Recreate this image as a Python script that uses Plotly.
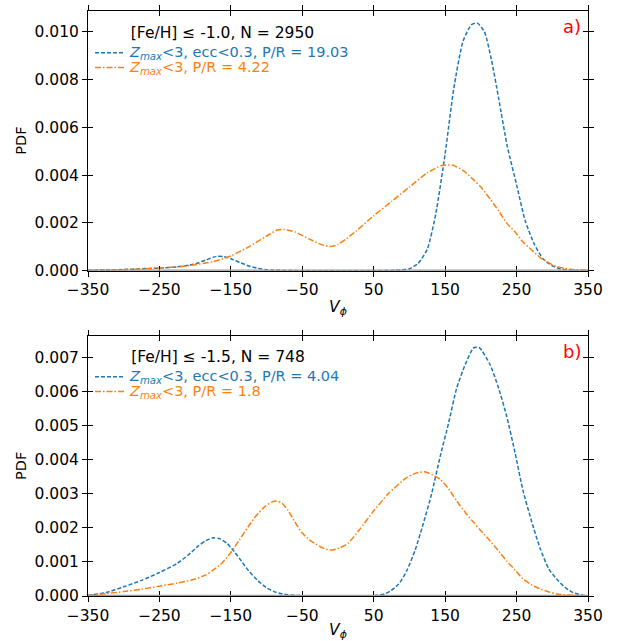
import plotly.graph_objects as go

# ---------------- data ----------------
# Panel a) [Fe/H] <= -1.0
a_blue_v = [-350, -325, -300, -275, -250, -225, -200, -185, -170, -160, -150, -137, -125, -112, -100, -75, -50, 0, 50, 75, 90, 100, 112, 125, 137, 150, 162, 175, 187, 195, 205, 215, 225, 237, 250, 262, 275, 287, 300, 312, 325, 350]
a_blue_p = [0.00002, 0.00003, 0.00005, 0.00008, 0.00011, 0.00016, 0.00028, 0.00045, 0.00060, 0.00059, 0.00050, 0.00034, 0.00020, 0.00010, 0.00004, 0.00001, 0.0, 0.0, 0.0, 0.00001, 0.00004, 0.00008, 0.0003, 0.0009, 0.0024, 0.0049, 0.0076, 0.0096, 0.0103, 0.01036, 0.0100, 0.0088, 0.0072, 0.0052, 0.0036, 0.0021, 0.0011, 0.0005, 0.0002, 0.00007, 0.00002, 0.0]

a_orange_v = [-350, -325, -300, -275, -250, -225, -200, -175, -150, -125, -100, -85, -75, -60, -40, -22, -10, 0, 10, 25, 50, 75, 100, 125, 145, 160, 175, 190, 200, 213, 225, 236, 250, 259, 270, 283, 300, 306, 325, 350]
a_orange_p = [0.00001, 0.00002, 0.00004, 0.00007, 0.00011, 0.00016, 0.00025, 0.00038, 0.00062, 0.0010, 0.00145, 0.00170, 0.00172, 0.00162, 0.00132, 0.00108, 0.00101, 0.00110, 0.00130, 0.00165, 0.0023, 0.0029, 0.0035, 0.0041, 0.0044, 0.00442, 0.0042, 0.0038, 0.0035, 0.0030, 0.0025, 0.0020, 0.00155, 0.0012, 0.0009, 0.00055, 0.00025, 0.00018, 0.00006, 0.00002]

# Panel b) [Fe/H] <= -1.5
b_blue_v = [-350, -325, -300, -275, -250, -225, -210, -195, -185, -175, -165, -155, -145, -135, -125, -112, -100, -87, -75, -60, -40, 0, 40, 55, 65, 73, 85, 96, 108, 119, 131, 143, 155, 166, 178, 190, 198, 213, 225, 236, 248, 259, 271, 283, 295, 306, 318, 329, 340, 350]
b_blue_p = [0.00002, 0.00010, 0.00027, 0.00046, 0.00069, 0.00096, 0.00120, 0.00148, 0.00163, 0.00171, 0.00168, 0.00154, 0.00130, 0.00102, 0.00074, 0.00045, 0.00024, 0.00011, 0.00005, 0.00002, 0.0, 0.0, 0.0, 0.00002, 0.00006, 0.00014, 0.00035, 0.00073, 0.00135, 0.0021, 0.0030, 0.0041, 0.0051, 0.0061, 0.0068, 0.0073, 0.0073, 0.0068, 0.0061, 0.0053, 0.0042, 0.0031, 0.0022, 0.0014, 0.0008, 0.0005, 0.00025, 0.0001, 0.00003, 0.0]

b_orange_v = [-350, -325, -300, -275, -250, -225, -200, -185, -175, -162, -150, -138, -126, -115, -103, -93, -86, -78, -70, -61, -50, -40, -33, -20, -9, 3, 14, 30, 50, 70, 96, 110, 121, 132, 143, 155, 166, 178, 190, 200, 213, 225, 236, 248, 259, 271, 283, 295, 306, 330, 350]
b_orange_p = [0.00002, 0.00007, 0.00013, 0.00020, 0.00029, 0.00038, 0.00050, 0.00062, 0.00076, 0.00098, 0.00128, 0.00165, 0.00203, 0.00235, 0.00262, 0.00276, 0.00279, 0.00272, 0.00252, 0.00220, 0.00185, 0.00165, 0.00155, 0.00140, 0.00135, 0.00142, 0.00155, 0.00195, 0.0025, 0.0030, 0.00348, 0.00362, 0.00365, 0.00357, 0.00343, 0.00315, 0.0028, 0.00246, 0.00216, 0.00192, 0.00162, 0.00132, 0.00103, 0.00076, 0.0005, 0.00033, 0.00021, 0.00012, 0.00006, 0.00002, 0.00001]

x_ticks = [-350, -250, -150, -50, 50, 150, 250, 350]
a_yticks = [0.000, 0.002, 0.004, 0.006, 0.008, 0.010]
b_yticks = [0.000, 0.001, 0.002, 0.003, 0.004, 0.005, 0.006, 0.007]

a_title = "[Fe/H] ≤ -1.0, N = 2950"
b_title = "[Fe/H] ≤ -1.5, N = 748"
a_names = ["<i>Z<sub>max</sub></i>&lt;3, ecc&lt;0.3, P/R = 19.03", "<i>Z<sub>max</sub></i>&lt;3, P/R = 4.22"]
b_names = ["<i>Z<sub>max</sub></i>&lt;3, ecc&lt;0.3, P/R = 4.04", "<i>Z<sub>max</sub></i>&lt;3, P/R = 1.8"]

BLUE = "#1f77b4"
ORANGE = "#ff7f0e"
FONT = "DejaVu Sans"

W, H = 627, 641
xdom = [88 / W, 588 / W]
a_dom = [1 - 270.7 / H, 1 - 10.5 / H]
b_dom = [1 - 596 / H, 1 - 335.5 / H]
a_range = [0, 0.01089]
b_range = [0, 0.00766]

fig = go.Figure()

def colored(name, c):
    return f'<span style="color:{c};font-size:14.5px">{name}</span>'

BLUE_LINE = dict(color=BLUE, width=1.5, dash="4px,2px", shape="spline", smoothing=0.6)
ORANGE_LINE = dict(color=ORANGE, width=1.5, dash="6px,2px,1.5px,2px", shape="spline", smoothing=0.6)

# panel a
fig.add_trace(go.Scatter(x=a_blue_v, y=a_blue_p, mode="lines", name=colored(a_names[0], BLUE),
                         line=BLUE_LINE, xaxis="x", yaxis="y", legend="legend"))
fig.add_trace(go.Scatter(x=a_orange_v, y=a_orange_p, mode="lines", name=colored(a_names[1], ORANGE),
                         line=ORANGE_LINE, xaxis="x", yaxis="y", legend="legend3"))
# panel b
fig.add_trace(go.Scatter(x=b_blue_v, y=b_blue_p, mode="lines", name=colored(b_names[0], BLUE),
                         line=BLUE_LINE, xaxis="x2", yaxis="y2", legend="legend2"))
fig.add_trace(go.Scatter(x=b_orange_v, y=b_orange_p, mode="lines", name=colored(b_names[1], ORANGE),
                         line=ORANGE_LINE, xaxis="x2", yaxis="y2", legend="legend4"))

# invisible traces to hold the inward-tick overlay axes
fig.add_trace(go.Scatter(x=[-350, 350], y=[0, 0], mode="lines", opacity=0, showlegend=False,
                         hoverinfo="skip", xaxis="x3", yaxis="y3"))
fig.add_trace(go.Scatter(x=[-350, 350], y=[0, 0], mode="lines", opacity=0, showlegend=False,
                         hoverinfo="skip", xaxis="x4", yaxis="y4"))

tickfont = dict(family=FONT, size=15.5, color="black")
common_x = dict(range=[-350, 350], tickmode="array", tickvals=x_ticks, showgrid=False, zeroline=False,
                ticklen=5, tickwidth=1, tickcolor="black", mirror="ticks", automargin=False)
xtitle = dict(text="<i>V<sub>ϕ</sub></i>", font=dict(family=FONT, size=15.5, color="black"), standoff=2)
ytitle = dict(text="PDF", font=dict(family=FONT, size=14.5, color="black"), standoff=4)

def leg(ytop, title=None):
    d = dict(x=90 / W, y=1 - ytop / H, xanchor="left", yanchor="top", bgcolor="rgba(0,0,0,0)",
             borderwidth=0, font=dict(family=FONT, size=11), itemwidth=30)
    if title:
        d["title"] = dict(text=title, side="top center", font=dict(family=FONT, size=15.5, color="black"))
    return d

fig.update_layout(
    width=W, height=H, margin=dict(l=0, r=0, t=0, b=0, autoexpand=False),
    paper_bgcolor="white", plot_bgcolor="white",
    font=dict(family=FONT, color="black"),
    xaxis=dict(domain=xdom, anchor="y", ticks="outside", showline=True, linecolor="black", linewidth=1,
               tickfont=tickfont, title=xtitle, **common_x),
    yaxis=dict(domain=a_dom, anchor="x", range=a_range, tickmode="array", tickvals=a_yticks, tickformat=".3f",
               ticks="outside", showline=True, linecolor="black", linewidth=1, mirror="ticks",
               ticklen=5, tickwidth=1, tickcolor="black", showgrid=False, zeroline=False,
               tickfont=tickfont, title=ytitle, automargin=False),
    xaxis3=dict(overlaying="x", anchor="y", ticks="inside", showline=False, showticklabels=False, **common_x),
    yaxis3=dict(overlaying="y", anchor="x", range=a_range, tickmode="array", tickvals=a_yticks,
                ticks="inside", ticklen=5, tickwidth=1, tickcolor="black", mirror="ticks",
                showline=False, showticklabels=False, showgrid=False, zeroline=False, automargin=False),
    xaxis2=dict(domain=xdom, anchor="y2", ticks="outside", showline=True, linecolor="black", linewidth=1,
                tickfont=tickfont, title=xtitle, **common_x),
    yaxis2=dict(domain=b_dom, anchor="x2", range=b_range, tickmode="array", tickvals=b_yticks, tickformat=".3f",
                ticks="outside", showline=True, linecolor="black", linewidth=1, mirror="ticks",
                ticklen=5, tickwidth=1, tickcolor="black", showgrid=False, zeroline=False,
                tickfont=tickfont, title=ytitle, automargin=False),
    xaxis4=dict(overlaying="x2", anchor="y2", ticks="inside", showline=False, showticklabels=False, **common_x),
    yaxis4=dict(overlaying="y2", anchor="x2", range=b_range, tickmode="array", tickvals=b_yticks,
                ticks="inside", ticklen=5, tickwidth=1, tickcolor="black", mirror="ticks",
                showline=False, showticklabels=False, showgrid=False, zeroline=False, automargin=False),
    legend=leg(18, a_title),
    legend3=leg(53),
    legend2=leg(342, b_title),
    legend4=leg(377),
    showlegend=True,
)

# grey zero reference lines
for xr, yr in (("x domain", "y"), ("x2 domain", "y2")):
    fig.add_shape(type="line", xref=xr, yref=yr, x0=0, x1=1, y0=0, y1=0,
                  line=dict(color="#9a9a9a", width=2.5), layer="above")

# panel labels
fig.add_annotation(text="a)", xref="paper", yref="paper", x=583 / W, y=1 - 14 / H, xanchor="right",
                   yanchor="top", showarrow=False, font=dict(family=FONT, size=18, color="red"))
fig.add_annotation(text="b)", xref="paper", yref="paper", x=583 / W, y=1 - 339 / H, xanchor="right",
                   yanchor="top", showarrow=False, font=dict(family=FONT, size=18, color="red"))

fig.write_html("out.html")
